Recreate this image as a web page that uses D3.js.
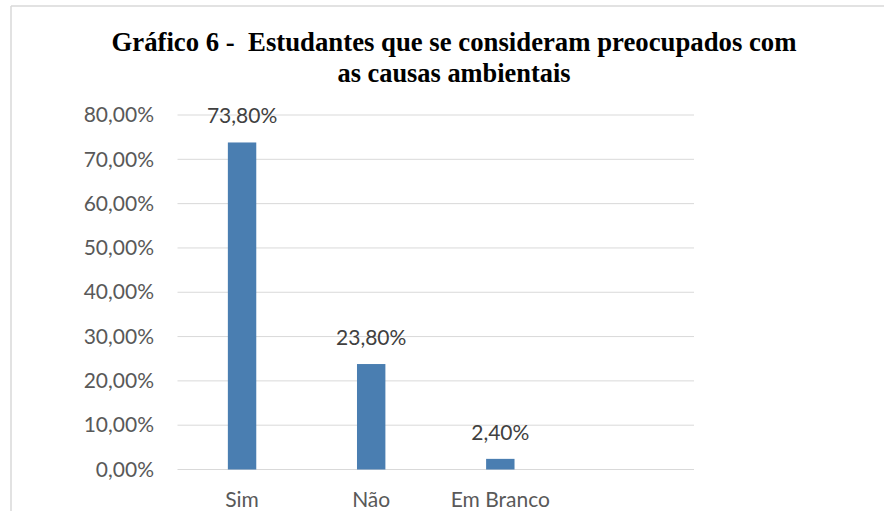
<!DOCTYPE html>
<html>
<head>
<meta charset="utf-8">
<script src="https://cdn.jsdelivr.net/npm/d3@7"></script>
<style>
  body { margin: 0; background: #fff; }
  svg { display: block; }
  .title { white-space: pre; }
</style>
</head>
<body>
<div id="chart"></div>
<script>
// chart data
var categories = ["Sim", "Não", "Em Branco", ""];   // 4th slot is empty in the original
var values = [0.738, 0.238, 0.024];
var yTicks = [0, 0.1, 0.2, 0.3, 0.4, 0.5, 0.6, 0.7, 0.8];
var titleLines = ["Gráfico 6 -  Estudantes que se consideram preocupados com", "as causas ambientais"];
var titleWidths = [685, 233];

var width = 884, height = 511;
var plot = {left: 177.5, right: 694, top: 115, bottom: 469.5};
var labelFont = "Lato, 'Open Sans', sans-serif";

var ptBR = d3.formatLocale({decimal: ",", thousands: ".", grouping: [3], currency: ["R$", ""], percent: "%"});
var fmt = ptBR.format(".2%");

var svg = d3.select("#chart").append("svg")
    .attr("width", width)
    .attr("height", height);

// frame (only top and left edges visible in the crop)
svg.append("line").attr("x1", 11).attr("x2", width).attr("y1", 6).attr("y2", 6)
    .attr("stroke", "#d9d9d9").attr("stroke-width", 1.5);
svg.append("line").attr("x1", 11).attr("x2", 11).attr("y1", 6).attr("y2", height)
    .attr("stroke", "#d9d9d9").attr("stroke-width", 1.5);

var x = d3.scaleBand()
    .domain(categories)
    .range([plot.left, plot.right])
    .paddingInner(0.78)
    .paddingOuter(0.39);

var y = d3.scaleLinear()
    .domain([0, 0.8])
    .range([plot.bottom, plot.top]);

// gridlines
svg.append("g")
    .selectAll("line")
    .data(yTicks).enter()
    .append("line")
    .attr("x1", plot.left)
    .attr("x2", plot.right)
    .attr("y1", function (d) { return y(d); })
    .attr("y2", function (d) { return y(d); })
    .attr("stroke", "#d9d9d9")
    .attr("stroke-width", 1);

// y axis labels
var yAxis = d3.axisLeft(y)
    .tickValues(yTicks)
    .tickFormat(fmt)
    .tickSize(0)
    .tickPadding(0);

var gy = svg.append("g")
    .attr("transform", "translate(154,0)")
    .call(yAxis);
gy.select(".domain").remove();
gy.selectAll("text")
    .attr("font-family", labelFont)
    .attr("font-size", 21)
    .attr("fill", "#595959");

// x axis labels
var xAxis = d3.axisBottom(x).tickSize(0).tickPadding(0);
var gx = svg.append("g")
    .attr("transform", "translate(0,492)")
    .call(xAxis);
gx.select(".domain").remove();
gx.selectAll("text")
    .attr("font-family", labelFont)
    .attr("font-size", 21)
    .attr("fill", "#595959");

// bars
svg.append("g")
    .selectAll("rect")
    .data(values).enter()
    .append("rect")
    .attr("x", function (d, i) { return x(categories[i]); })
    .attr("y", function (d) { return y(d); })
    .attr("width", x.bandwidth())
    .attr("height", function (d) { return y(0) - y(d); })
    .attr("fill", "#4a7eb1");

// data labels
svg.append("g")
    .selectAll("text")
    .data(values).enter()
    .append("text")
    .attr("x", function (d, i) { return x(categories[i]) + x.bandwidth() / 2; })
    .attr("y", function (d) { return y(d) - 19; })
    .attr("text-anchor", "middle")
    .attr("font-family", labelFont)
    .attr("font-size", 21)
    .attr("fill", "#404040")
    .text(function (d) { return fmt(d); });

// title
svg.append("g")
    .selectAll("text")
    .data(titleLines).enter()
    .append("text")
    .attr("class", "title")
    .attr("x", 454)
    .attr("y", function (d, i) { return 51 + i * 30.5; })
    .attr("text-anchor", "middle")
    .attr("font-family", "'Liberation Serif', 'Times New Roman', serif")
    .attr("font-weight", "bold")
    .attr("font-size", 27)
    .attr("textLength", function (d, i) { return titleWidths[i]; })
    .attr("lengthAdjust", "spacingAndGlyphs")
    .attr("fill", "#000")
    .text(function (d) { return d; });
</script>
</body>
</html>
